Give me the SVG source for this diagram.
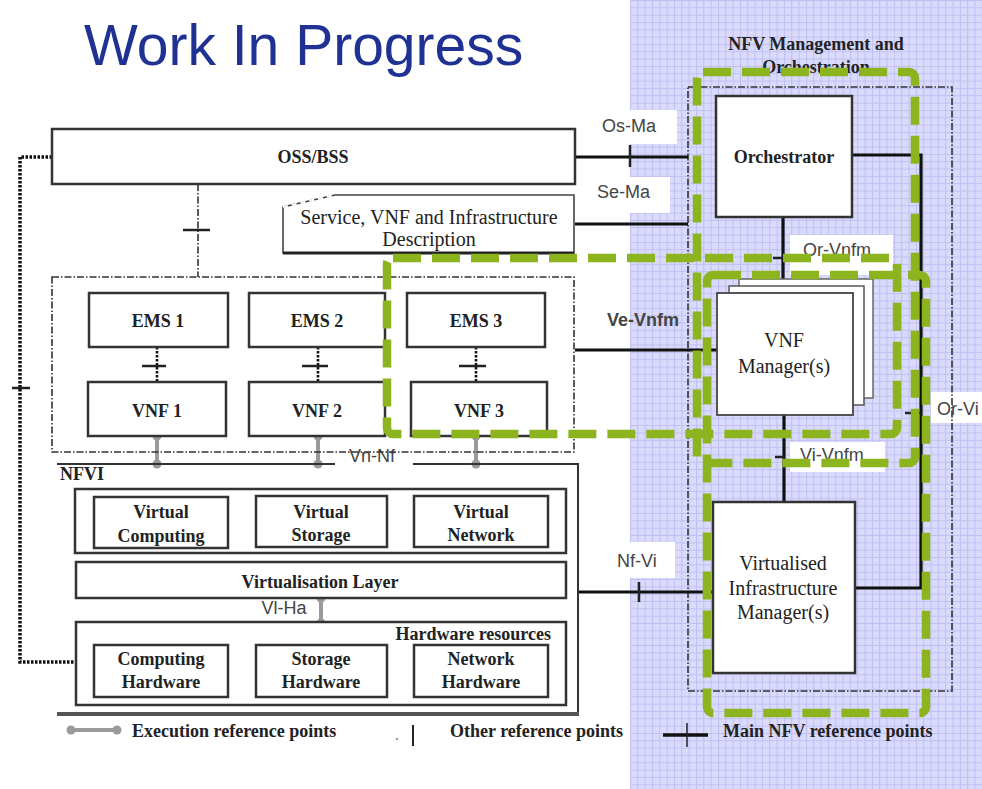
<svg xmlns="http://www.w3.org/2000/svg" width="982" height="789" viewBox="0 0 982 789">
<defs>
<pattern id="grid" x="630" y="0" width="7.33" height="7.33" patternUnits="userSpaceOnUse">
<rect width="7.33" height="7.33" fill="#dadafc"/>
<path d="M0 0.5 H7.33 M0.5 0 V7.33" stroke="#bfbff2" stroke-width="1" fill="none"/>
</pattern>
<style>
.box{fill:#fff;stroke:#333;stroke-width:2.5}
.thin{fill:#fff;stroke:#444;stroke-width:1.6}
.dd{fill:none;stroke:#333;stroke-width:1.6;stroke-dasharray:7 2 1.5 2}
.main{stroke:#111;stroke-width:3.2;fill:none}
.tick{stroke:#222;stroke-width:2.5;fill:none}
.dot{stroke:#111;stroke-width:2.6;stroke-dasharray:2.5 1.5;fill:none}
.exec{stroke:#9a9a9a;stroke-width:4;fill:none}
.ed{fill:#9a9a9a}
.green{fill:none;stroke:#8cb41e;stroke-width:8.5;stroke-dasharray:28 11}
.lbg{fill:#fff}
.sb{font-family:"Liberation Serif","Times New Roman",serif;font-weight:bold;fill:#222;font-size:18px}
.sr{font-family:"Liberation Serif","Times New Roman",serif;fill:#222;font-size:20px}
.ss{font-family:"Liberation Sans",Arial,sans-serif;fill:#444;font-size:18px}
.mid{text-anchor:middle}
</style>
</defs>
<rect width="982" height="789" fill="#fff"/>
<rect x="630" y="0" width="352" height="789" fill="url(#grid)"/>

<text x="84" y="65" font-family="Liberation Sans, Arial, sans-serif" font-size="57" fill="#1f3192">Work In Progress</text>

<g id="label-backgrounds">
<rect class="lbg" x="590" y="110" width="87" height="34"/>
<rect class="lbg" x="590" y="177" width="80" height="36"/>
<rect class="lbg" x="600" y="542" width="75" height="36"/>
<rect class="lbg" x="790" y="235" width="103" height="40"/>
<rect class="lbg" x="790" y="442" width="95" height="30"/>
<rect class="lbg" x="931" y="392" width="51" height="31"/>
</g>

<g id="mano">
<rect class="dd" x="688" y="87" width="264" height="604"/>
<text class="sb mid" x="816" y="50" font-size="19">NFV Management and</text>
<text class="sb mid" x="816" y="73" font-size="19">Orchestration</text>
</g>

<g id="connectors">
<path d="M52 157 H20 V662 H75" stroke="#111" stroke-width="3.5" stroke-dasharray="2.5 1.5" fill="none"/>
<path class="tick" d="M12 388 H30"/>
<path class="dd" d="M198 184 V277"/>
<path class="tick" d="M183 230 H210" stroke-width="3"/>
<path class="dot" d="M157 347 V382"/>
<path class="dot" d="M318 347 V382"/>
<path class="dot" d="M476 347 V382"/>
<path class="tick" d="M142 366 H166" stroke-width="3"/>
<path class="tick" d="M302 366 H328" stroke-width="4"/>
<path class="tick" d="M459 366 H486" stroke-width="3"/>
<path class="exec" d="M157 436 V464 M318 436 V464 M476 436 V464 M321 598 V623"/>
<circle class="ed" cx="157" cy="436" r="4.5"/><circle class="ed" cx="157" cy="464" r="4.5"/>
<circle class="ed" cx="318" cy="436" r="4.5"/><circle class="ed" cx="318" cy="464" r="4.5"/>
<circle class="ed" cx="476" cy="436" r="4.5"/><circle class="ed" cx="476" cy="464" r="4.5"/>
<circle class="ed" cx="321" cy="598" r="4.5"/><circle class="ed" cx="321" cy="623" r="4.5"/>
<path class="main" d="M575 157 H688"/>
<path class="tick" d="M630 145 V167"/>
<path class="main" d="M575 224 H688"/>
<path class="main" d="M575 350 H717"/>
<path class="main" d="M577 592 H713" stroke-width="3.6"/>
<path class="tick" d="M639 582 V602"/>
<path class="main" d="M783 217 V293"/>
<path class="tick" d="M773 258 H783" stroke-width="2"/>
<path class="main" d="M784 415 V502"/>
<path class="tick" d="M775 457 H784" stroke-width="2"/>
<path class="main" d="M852 155 H921 V588 H855" stroke-width="3.6"/>
<path class="tick" d="M905 413 H921" stroke-width="2"/>
<text class="ss" x="602" y="132">Os-Ma</text>
<text class="ss" x="597" y="198">Se-Ma</text>
<text class="ss" x="607" y="326" font-weight="bold" font-size="17" fill="#222">Ve-Vnfm</text>
<text class="ss" x="617" y="567">Nf-Vi</text>
<text class="ss" x="803" y="256">Or-Vnfm</text>
<text class="ss" x="800" y="461">Vi-Vnfm</text>
<text class="ss" x="937" y="415">Or-Vi</text>
<text class="ss mid" x="372" y="462" fill="#555">Vn-Nf</text>
<text class="ss mid" x="284" y="614">Vl-Ha</text>
</g>

<g id="oss-bss">
<rect class="box" x="52" y="129" width="523" height="55"/>
<text class="sb mid" x="313" y="163">OSS/BSS</text>
</g>

<g id="service-description">
<path class="thin" d="M283 253 V207 L335 195 H574 V253 Z"/>
<path d="M283 207 L335 195" stroke="#fff" stroke-width="2" stroke-dasharray="5 4" fill="none"/>
<path d="M283 253 H574" stroke="#222" stroke-width="3"/>
<text class="sr mid" x="429" y="224" font-size="19">Service, VNF and Infrastructure</text>
<text class="sr mid" x="429" y="246" font-size="19">Description</text>
</g>

<g id="vnf-domain">
<rect class="dd" x="52" y="277" width="522" height="175"/>
</g>
<g id="ems1"><rect class="box" x="89" y="293" width="139" height="54"/><text class="sb mid" x="158" y="327">EMS 1</text></g>
<g id="ems2"><rect class="box" x="249" y="293" width="136" height="54"/><text class="sb mid" x="317" y="327">EMS 2</text></g>
<g id="ems3"><rect class="box" x="407" y="293" width="138" height="54"/><text class="sb mid" x="476" y="327">EMS 3</text></g>
<g id="vnf1"><rect class="box" x="88" y="382" width="138" height="54"/><text class="sb mid" x="157" y="417">VNF 1</text></g>
<g id="vnf2"><rect class="box" x="249" y="382" width="136" height="54"/><text class="sb mid" x="317" y="417">VNF 2</text></g>
<g id="vnf3"><rect class="box" x="411" y="382" width="136" height="54"/><text class="sb mid" x="479" y="417">VNF 3</text></g>

<g id="nfvi">
<path d="M57 464 H335 M413 464 H578 V714" stroke="#333" stroke-width="2" fill="none"/>
<path d="M57 714 H579" stroke="#555" stroke-width="4" fill="none"/>
<text class="sb" x="60" y="480" font-size="17">NFVI</text>
<rect class="box" x="75" y="489" width="491" height="64" stroke-width="2"/>
<rect class="box" x="76" y="562" width="490" height="36"/>
<text class="sb mid" x="320" y="588" font-size="19">Virtualisation Layer</text>
<rect class="box" x="76" y="622" width="490" height="83"/>
<text class="sb" x="551" y="640" text-anchor="end">Hardware resources</text>
</g>
<g id="virtual-computing"><rect class="box" x="94" y="497" width="134" height="51"/><text class="sb mid" x="161" y="518">Virtual</text><text class="sb mid" x="161" y="542">Computing</text></g>
<g id="virtual-storage"><rect class="box" x="256" y="496" width="131" height="51"/><text class="sb mid" x="321" y="518">Virtual</text><text class="sb mid" x="321" y="541">Storage</text></g>
<g id="virtual-network"><rect class="box" x="414" y="496" width="134" height="51"/><text class="sb mid" x="481" y="518">Virtual</text><text class="sb mid" x="481" y="541">Network</text></g>
<g id="computing-hardware"><rect class="box" x="94" y="645" width="134" height="52"/><text class="sb mid" x="161" y="665">Computing</text><text class="sb mid" x="161" y="688">Hardware</text></g>
<g id="storage-hardware"><rect class="box" x="256" y="645" width="131" height="52"/><text class="sb mid" x="321" y="665">Storage</text><text class="sb mid" x="321" y="688">Hardware</text></g>
<g id="network-hardware"><rect class="box" x="414" y="645" width="134" height="52"/><text class="sb mid" x="481" y="665">Network</text><text class="sb mid" x="481" y="688">Hardware</text></g>

<g id="orchestrator">
<rect class="box" x="716" y="96" width="136" height="121" stroke-width="2"/>
<text class="sb mid" x="784" y="163">Orchestrator</text>
</g>
<g id="vnf-manager">
<rect x="739" y="279" width="134" height="119" fill="#fff" stroke="#666" stroke-width="1.5"/>
<rect x="729" y="286" width="135" height="119" fill="#fff" stroke="#555" stroke-width="1.5"/>
<rect x="717" y="293" width="136" height="122" fill="#fff" stroke="#444" stroke-width="1.8"/>
<text class="sr mid" x="784" y="347">VNF</text>
<text class="sr mid" x="784" y="373">Manager(s)</text>
</g>
<g id="vim">
<rect class="box" x="713" y="502" width="142" height="171" stroke-width="2"/>
<text class="sr mid" x="783" y="570">Virtualised</text>
<text class="sr mid" x="783" y="595">Infrastructure</text>
<text class="sr mid" x="783" y="619">Manager(s)</text>
</g>

<g id="groupings">
<rect class="green" x="697" y="72" width="218" height="391" rx="6"/>
<rect class="green" x="707" y="275" width="219" height="438" rx="6"/>
<rect class="green" x="387" y="258" width="510" height="176" rx="6"/>
</g>

<g id="legend">
<path class="exec" d="M71 730 H117"/>
<circle class="ed" cx="71" cy="730" r="4.5"/><circle class="ed" cx="117" cy="730" r="4.5"/>
<text class="sb" x="132" y="737" font-size="17">Execution reference points</text>
<circle cx="397" cy="739" r="1.2" fill="#999"/>
<path d="M413 725 V746" stroke="#222" stroke-width="2"/>
<text class="sb" x="450" y="737" font-size="17">Other reference points</text>
<path d="M663 735 H708" stroke="#111" stroke-width="3.5"/>
<path d="M687 723 V747" stroke="#222" stroke-width="1.5"/>
<text class="sb" x="723" y="737" font-size="17">Main NFV reference points</text>
</g>
</svg>
